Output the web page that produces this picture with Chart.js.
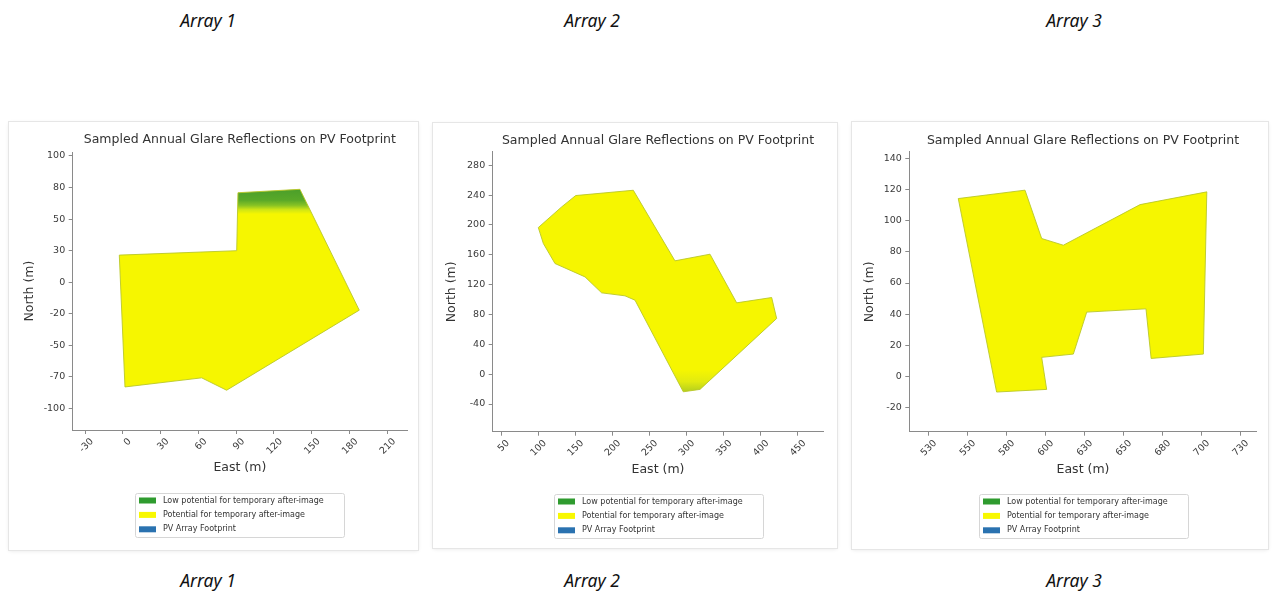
<!DOCTYPE html>
<html>
<head>
<meta charset="utf-8">
<script src="https://cdn.jsdelivr.net/npm/chart.js@4.4.1/dist/chart.umd.min.js"></script>
<style>
  html, body { margin:0; padding:0; background:#fff; }
  body { width:1272px; height:594px; position:relative; overflow:hidden; }
  .cap { position:absolute; font-family:"Noto Sans", sans-serif; font-style:italic; font-size:17.5px; color:#111; transform:translateX(-50%); white-space:nowrap; line-height:1; }
  .panel { position:absolute; background:#fff; box-shadow:0 0 0 1px #e6e6e6, 0 1px 4px rgba(0,0,0,0.10); }
  .panel canvas { position:absolute; left:0; top:0; }
</style>
</head>
<body>
<div class="cap" style="left:208px; top:12px;">Array 1</div>
<div class="cap" style="left:592px; top:12px;">Array 2</div>
<div class="cap" style="left:1074px; top:12px;">Array 3</div>
<div class="cap" style="left:208px; top:572px;">Array 1</div>
<div class="cap" style="left:592px; top:572px;">Array 2</div>
<div class="cap" style="left:1074px; top:572px;">Array 3</div>

<div class="panel" style="left:9px; top:122px; width:409px; height:428px;"><canvas id="c1"></canvas></div>
<div class="panel" style="left:433px; top:123px; width:404px; height:425px;"><canvas id="c2"></canvas></div>
<div class="panel" style="left:852px; top:122px; width:416px; height:427px;"><canvas id="c3"></canvas></div>

<script>
// ---------------- DATA ----------------
const chartTitle = 'Sampled Annual Glare Reflections on PV Footprint';
const xAxisTitle = 'East (m)';
const yAxisTitle = 'North (m)';
const legendLabels = ['Low potential for temporary after-image', 'Potential for temporary after-image', 'PV Array Footprint'];
const legendColors = ['#2f9b2f', '#f8f800', '#2a72b0'];

// Array 1 footprint (m)
const array1East  = [-2.8, 90.4, 91.4, 140.6, 187.7, 82.4, 62.6, 1.7, -2.8];
const array1North = [21.5, 25.0, 70.9, 73.6, -22.1, -85.5, -75.7, -82.9, 21.5];
const array1XTicks = [-30, 0, 30, 60, 90, 120, 150, 180, 210];
const array1XTickLabels = ['-30', '0', '30', '60', '90', '120', '150', '180', '210'];
const array1YTicks = [-100, -75, -50, -25, 0, 25, 50, 75, 100];
const array1YTickLabels = ['-100', '-70', '-50', '-20', '0', '30', '50', '80', '100'];

// Array 2 footprint (m)
const array2East  = [100.3, 131.8, 150.7, 228.4, 284.6, 331.8, 367.8, 415.0, 421.7, 318.3, 295.8, 230.7, 217.2, 185.7, 163.3, 122.8, 107.1, 100.3];
const array2North = [196.5, 224.2, 239.4, 246.5, 151.9, 160.8, 95.6, 102.7, 74.6, -20.4, -23.6, 99.2, 105.0, 109.0, 130.4, 148.3, 175.1, 196.5];
const array2XTicks = [50, 100, 150, 200, 250, 300, 350, 400, 450];
const array2XTickLabels = ['50', '100', '150', '200', '250', '300', '350', '400', '450'];
const array2YTicks = [-40, 0, 40, 80, 120, 160, 200, 240, 280];
const array2YTickLabels = ['-40', '0', '40', '80', '120', '160', '200', '240', '280'];

// Array 3 footprint (m)
const array3East  = [544.2, 587.0, 597.7, 611.6, 660.8, 703.6, 701.4, 667.9, 664.6, 626.6, 618.0, 597.7, 600.9, 568.8, 544.2];
const array3North = [114.3, 119.7, 88.6, 84.3, 110.4, 118.6, 14.3, 11.5, 43.4, 41.3, 14.3, 12.2, -8.4, -10.1, 114.3];
const array3XTicks = [525, 550, 575, 600, 625, 650, 675, 700, 725];
const array3XTickLabels = ['530', '550', '580', '600', '630', '650', '680', '700', '730'];
const array3YTicks = [-20, 0, 20, 40, 60, 80, 100, 120, 140];
const array3YTickLabels = ['-20', '0', '20', '40', '60', '80', '100', '120', '140'];

// ---------------- RENDERING ----------------
const FONT = '"DejaVu Sans", sans-serif';
const YELLOW = '#f6f600';

function gradientFill(stops) {
  return (context) => {
    const chart = context.chart;
    const { chartArea, scales } = chart;
    if (!chartArea || !scales.y) return YELLOW;
    const y0 = scales.y.getPixelForValue(stops[0][0]);
    const y1 = scales.y.getPixelForValue(stops[stops.length - 1][0]);
    const g = chart.ctx.createLinearGradient(0, y0, 0, y1);
    stops.forEach(([v, c]) => {
      const p = scales.y.getPixelForValue(v);
      g.addColorStop(Math.min(1, Math.max(0, (p - y0) / (y1 - y0))), c);
    });
    return g;
  };
}

const legendPlugin = {
  id: 'glareLegend',
  afterDraw(chart, args, opts) {
    const { ctx, chartArea } = chart;
    const cx = (chartArea.left + chartArea.right) / 2;
    const w = 209, h = 44;
    const left = Math.round(cx - w / 2) + 0.5, top = Math.round(chartArea.bottom + opts.offsetTop) + 0.5;
    ctx.save();
    ctx.fillStyle = '#fff';
    ctx.strokeStyle = '#d6d6d6';
    ctx.lineWidth = 1;
    ctx.beginPath();
    const r = 2;
    ctx.moveTo(left + r, top);
    ctx.lineTo(left + w - r, top); ctx.quadraticCurveTo(left + w, top, left + w, top + r);
    ctx.lineTo(left + w, top + h - r); ctx.quadraticCurveTo(left + w, top + h, left + w - r, top + h);
    ctx.lineTo(left + r, top + h); ctx.quadraticCurveTo(left, top + h, left, top + h - r);
    ctx.lineTo(left, top + r); ctx.quadraticCurveTo(left, top, left + r, top);
    ctx.fill(); ctx.stroke();
    ctx.font = '8px ' + FONT;
    ctx.textBaseline = 'middle';
    ctx.textAlign = 'left';
    legendLabels.forEach((lab, i) => {
      const y = top + 7 + i * 14.4;
      ctx.fillStyle = legendColors[i];
      ctx.fillRect(left + 3.5, y - 3, 17, 6);
      ctx.fillStyle = '#333';
      ctx.fillText(lab, left + 27.5, y);
    });
    ctx.restore();
  }
};

function makePanel(id, cfg) {
  const pts = cfg.east.map((x, i) => ({ x, y: cfg.north[i] }));
  return new Chart(document.getElementById(id), {
    type: 'scatter',
    data: {
      datasets: [{
        label: legendLabels[1],
        data: pts,
        showLine: true,
        fill: 'shape',
        tension: 0,
        pointRadius: 0,
        borderWidth: 1,
        borderColor: 'rgba(185,200,40,0.9)',
        backgroundColor: cfg.fill
      }]
    },
    options: {
      responsive: true,
      maintainAspectRatio: false,
      animation: false,
      events: [],
      layout: { padding: cfg.padding },
      plugins: {
        legend: { display: false },
        tooltip: { enabled: false },
        title: {
          display: true, text: chartTitle, fullSize: false,
          font: { family: FONT, size: 12.5, weight: 'normal' }, color: '#333',
          padding: { top: 0, bottom: cfg.titleGap }
        },
        glareLegend: { offsetTop: 62.5 }
      },
      scales: {
        x: {
          type: 'linear', position: 'bottom', min: cfg.xRange[0], max: cfg.xRange[1],
          afterBuildTicks: s => { s.ticks = cfg.xTicks.map(v => ({ value: v })); },
          afterFit: s => { s.height = cfg.xAxisHeight; },
          ticks: {
            callback: (v, i) => cfg.xTickLabels[i],
            minRotation: 45, maxRotation: 45, autoSkip: false,
            font: { family: FONT, size: 9.5 }, color: '#3a3a3a',
            padding: 2, labelOffset: 7
          },
          grid: { display: true, drawOnChartArea: false, drawTicks: true, tickLength: 4, color: '#8a8a8a', tickColor: '#8a8a8a' },
          border: { display: true, color: '#8a8a8a', width: 1 },
          title: { display: true, text: xAxisTitle, font: { family: FONT, size: 12.5 }, color: '#333', padding: 0 }
        },
        y: {
          type: 'linear', position: 'left', min: cfg.yRange[0], max: cfg.yRange[1],
          afterBuildTicks: s => { s.ticks = cfg.yTicks.map(v => ({ value: v })); },
          afterFit: s => { s.width = cfg.yAxisWidth; },
          ticks: {
            callback: (v, i) => cfg.yTickLabels[i],
            autoSkip: false,
            font: { family: FONT, size: 9.5 }, color: '#3a3a3a',
            padding: 3.5
          },
          grid: { display: true, drawOnChartArea: false, drawTicks: true, tickLength: 4, color: '#8a8a8a', tickColor: '#8a8a8a' },
          border: { display: true, color: '#8a8a8a', width: 1 },
          title: { display: true, text: yAxisTitle, font: { family: FONT, size: 12.5 }, color: '#333', padding: 0 }
        }
      }
    },
    plugins: [legendPlugin]
  });
}

makePanel('c1', {
  east: array1East, north: array1North,
  xTicks: array1XTicks, xTickLabels: array1XTickLabels,
  yTicks: array1YTicks, yTickLabels: array1YTickLabels,
  xRange: [-39.8, 225.6], yRange: [-117, 103],
  padding: { left: 12.8, right: 11, top: 10.1, bottom: 74.5 },
  titleGap: 5.1, yAxisWidth: 50.9, xAxisHeight: 45.5,
  fill: gradientFill([[74, '#4a9e2a'], [65, '#5aa928'], [61, '#86c224'], [57.5, '#cfe515'], [54, YELLOW]])
});
makePanel('c2', {
  east: array2East, north: array2North,
  xTicks: array2XTicks, xTickLabels: array2XTickLabels,
  yTicks: array2YTicks, yTickLabels: array2YTickLabels,
  xRange: [38.8, 484.6], yRange: [-77.1, 297.9],
  padding: { left: 11.2, right: 13.7, top: 9.8, bottom: 71.2 },
  titleGap: 4.1, yAxisWidth: 48.5, xAxisHeight: 45.1,
  fill: gradientFill([[6, YELLOW], [-10, '#e2ea10'], [-24, '#b2ce1e']])
});
makePanel('c3', {
  east: array3East, north: array3North,
  xTicks: array3XTicks, xTickLabels: array3XTickLabels,
  yTicks: array3YTicks, yTickLabels: array3YTickLabels,
  xRange: [512.8, 735.6], yRange: [-35.6, 144.3],
  padding: { left: 10.5, right: 11.3, top: 10.8, bottom: 72.2 },
  titleGap: 4.1, yAxisWidth: 46.8, xAxisHeight: 45.1,
  fill: YELLOW
});
</script>
</body>
</html>
